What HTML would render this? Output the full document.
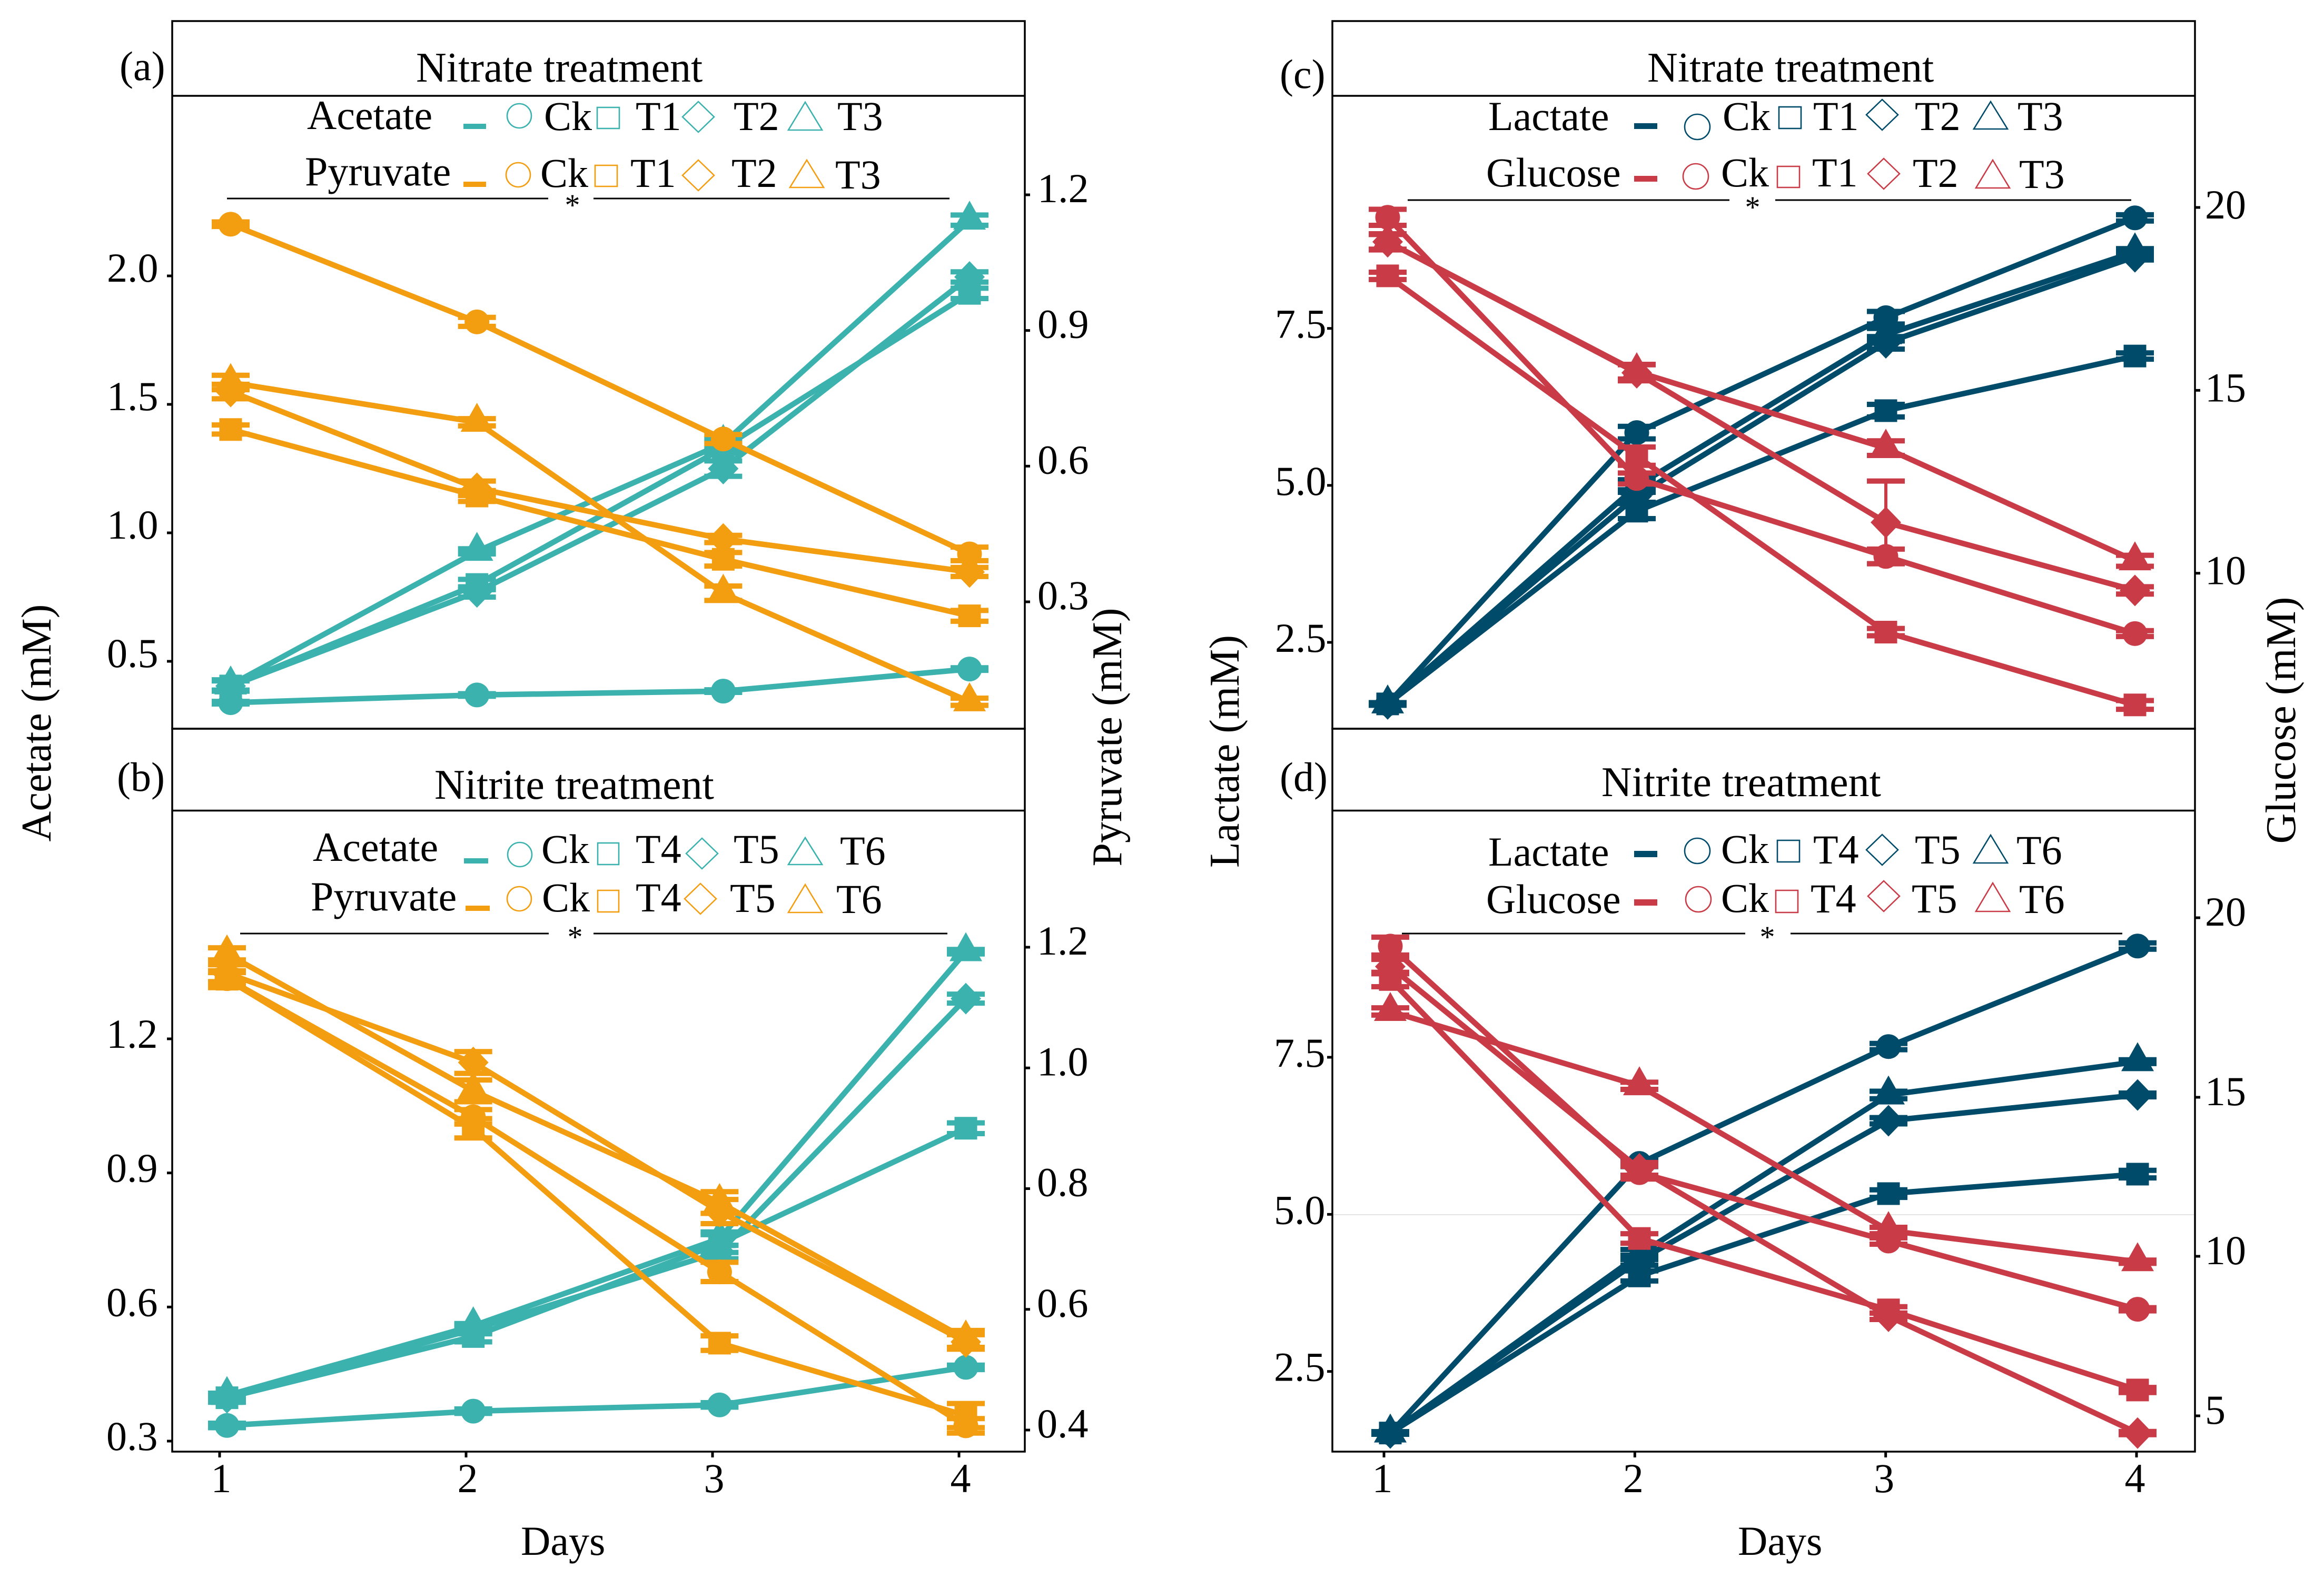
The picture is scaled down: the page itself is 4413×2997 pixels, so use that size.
<!DOCTYPE html>
<html lang="en">
<head>
<meta charset="utf-8">
<title>Metabolite time courses under nitrate and nitrite treatment</title>
<style>
html,body{margin:0;padding:0;background:#fff;}
svg{display:block;}
text{font-family:"Liberation Serif",serif;font-size:78px;fill:#000;}
.title{font-size:80px;}
.axt{font-size:80px;}
.star{font-size:58px;text-anchor:middle;}
.frame{fill:none;stroke:#000;stroke-width:3.5;}
.sig{stroke:#000;stroke-width:3;}
.o{fill:none;stroke-width:2.6;}
.teal{stroke:#3CB2AE;} .orange{stroke:#F39D10;} .navy{stroke:#014B6A;} .red{stroke:#C83B47;}
.ft{fill:#3CB2AE;} .fo{fill:#F39D10;} .fn{fill:#014B6A;} .fr{fill:#C83B47;}
</style>
</head>
<body>
<svg id="chart" xmlns="http://www.w3.org/2000/svg" width="4413" height="2997" viewBox="0 0 4413 2997">
<rect x="0" y="0" width="4413" height="2997" fill="#fff"/>

<!-- frames -->
<g><rect class="frame" x="327" y="40" width="1619" height="1344"/><line class="frame" x1="327" x2="1946" y1="182" y2="182"/></g>
<g><rect class="frame" x="327" y="1384" width="1619" height="1373"/><line class="frame" x1="327" x2="1946" y1="1539.5" y2="1539.5"/></g>
<g><rect class="frame" x="2530" y="40" width="1638" height="1344"/><line class="frame" x1="2530" x2="4168" y1="182" y2="182"/></g>
<g><rect class="frame" x="2530" y="1384" width="1638" height="1373"/><line class="frame" x1="2530" x2="4168" y1="1539.5" y2="1539.5"/></g>
<line x1="2532" x2="4166" y1="2307" y2="2307" stroke="#e4e4e4" stroke-width="2"/>

<!-- panel labels and titles -->
<text x="227" y="152">(a)</text>
<text x="222" y="1502">(b)</text>
<text x="2430" y="167">(c)</text>
<text x="2430" y="1502">(d)</text>
<text class="title" x="790" y="155">Nitrate treatment</text>
<text class="title" x="825" y="1517">Nitrite treatment</text>
<text class="title" x="3128" y="155">Nitrate treatment</text>
<text class="title" x="3041" y="1512">Nitrite treatment</text>

<!-- axis titles -->
<text class="axt" text-anchor="middle" transform="translate(96,1373) rotate(-90)">Acetate (mM)</text>
<text class="axt" text-anchor="middle" transform="translate(2129,1400) rotate(-90)">Pyruvate (mM)</text>
<text class="axt" text-anchor="middle" transform="translate(2352,1427) rotate(-90)">Lactate (mM)</text>
<text class="axt" text-anchor="middle" transform="translate(4358,1368) rotate(-90)">Glucose (mM)</text>
<text x="989" y="2953">Days</text>
<text x="3300" y="2953">Days</text>

<!-- significance lines -->
<g><line class="sig" x1="431" x2="1041" y1="377" y2="377"/><line class="sig" x1="1127" x2="1803" y1="377" y2="377"/><text class="star" x="1087" y="409">*</text></g>
<g><line class="sig" x1="456" x2="1042" y1="1773" y2="1773"/><line class="sig" x1="1127" x2="1799" y1="1773" y2="1773"/><text class="star" x="1092" y="1799">*</text></g>
<g><line class="sig" x1="2673" x2="3284" y1="380" y2="380"/><line class="sig" x1="3371" x2="4047" y1="380" y2="380"/><text class="star" x="3328" y="413">*</text></g>
<g><line class="sig" x1="2662" x2="3314" y1="1773" y2="1773"/><line class="sig" x1="3400" x2="4030" y1="1773" y2="1773"/><text class="star" x="3356" y="1799">*</text></g>

<g id="marks"></g>

<!-- legends -->
<g>
<text x="583" y="245">Acetate</text><rect class="ft" x="880" y="235" width="43" height="10"/>
<circle class="o teal" cx="986" cy="220" r="23"/><text x="1033" y="247">Ck</text>
<rect class="o teal" x="1134" y="204" width="42" height="40"/><text x="1207" y="247">T1</text>
<polygon class="o teal" points="1326,193 1356,222 1326,251 1296,222"/><text x="1393" y="247">T2</text>
<polygon class="o teal" points="1529,194 1561,247 1497,247"/><text x="1590" y="247">T3</text>
</g>
<g>
<text x="579" y="352">Pyruvate</text><rect class="fo" x="880" y="345" width="43" height="10"/>
<circle class="o orange" cx="984" cy="332" r="23"/><text x="1026" y="355">Ck</text>
<rect class="o orange" x="1130" y="314" width="42" height="40"/><text x="1197" y="355">T1</text>
<polygon class="o orange" points="1326,304 1356,333 1326,362 1296,333"/><text x="1389" y="355">T2</text>
<polygon class="o orange" points="1532,304 1564,356 1500,356"/><text x="1586" y="358">T3</text>
</g>
<g>
<text x="594" y="1635">Acetate</text><rect class="ft" x="881" y="1630" width="46" height="10"/>
<circle class="o teal" cx="987" cy="1623" r="23"/><text x="1028" y="1639">Ck</text>
<rect class="o teal" x="1135" y="1601" width="40" height="41"/><text x="1207" y="1639">T4</text>
<polygon class="o teal" points="1333,1592 1363,1621 1333,1650 1303,1621"/><text x="1393" y="1639">T5</text>
<polygon class="o teal" points="1529,1591 1561,1642 1497,1642"/><text x="1595" y="1642">T6</text>
</g>
<g>
<text x="590" y="1729">Pyruvate</text><rect class="fo" x="884" y="1720" width="46" height="10"/>
<circle class="o orange" cx="986" cy="1707" r="23"/><text x="1029" y="1731">Ck</text>
<rect class="o orange" x="1135" y="1691" width="40" height="41"/><text x="1207" y="1731">T4</text>
<polygon class="o orange" points="1330,1678 1360,1707 1330,1736 1300,1707"/><text x="1386" y="1732">T5</text>
<polygon class="o orange" points="1529,1680 1561,1733 1497,1733"/><text x="1588" y="1734">T6</text>
</g>
<g>
<text x="2826" y="247">Lactate</text><rect class="fn" x="3103" y="234" width="44" height="11"/>
<circle class="o navy" cx="3223" cy="241" r="24"/><text x="3271" y="247">Ck</text>
<rect class="o navy" x="3378" y="203" width="42" height="41"/><text x="3443" y="247">T1</text>
<polygon class="o navy" points="3574,189 3604,218 3574,247 3544,218"/><text x="3636" y="247">T2</text>
<polygon class="o navy" points="3780,193 3812,245 3748,245"/><text x="3831" y="247">T3</text>
</g>
<g>
<text x="2822" y="354">Glucose</text><rect class="fr" x="3103" y="334" width="44" height="11"/>
<circle class="o red" cx="3220" cy="335" r="24"/><text x="3268" y="354">Ck</text>
<rect class="o red" x="3375" y="316" width="42" height="40"/><text x="3441" y="354">T1</text>
<polygon class="o red" points="3577,301 3607,330 3577,359 3547,330"/><text x="3632" y="355">T2</text>
<polygon class="o red" points="3784,304 3816,357 3752,357"/><text x="3834" y="357">T3</text>
</g>
<g>
<text x="2826" y="1644">Lactate</text><rect class="fn" x="3103" y="1616" width="44" height="12"/>
<circle class="o navy" cx="3223" cy="1616" r="24"/><text x="3268" y="1639">Ck</text>
<rect class="o navy" x="3375" y="1596" width="42" height="41"/><text x="3443" y="1640">T4</text>
<polygon class="o navy" points="3574,1585 3604,1614 3574,1643 3544,1614"/><text x="3636" y="1640">T5</text>
<polygon class="o navy" points="3780,1586 3812,1639 3748,1639"/><text x="3829" y="1641">T6</text>
</g>
<g>
<text x="2822" y="1734">Glucose</text><rect class="fr" x="3103" y="1708" width="44" height="12"/>
<circle class="o red" cx="3225" cy="1708" r="24"/><text x="3268" y="1732">Ck</text>
<rect class="o red" x="3372" y="1691" width="42" height="42"/><text x="3438" y="1733">T4</text>
<polygon class="o red" points="3577,1673 3607,1702 3577,1731 3547,1702"/><text x="3630" y="1733">T5</text>
<polygon class="o red" points="3784,1677 3816,1731 3752,1731"/><text x="3834" y="1734">T6</text>
</g>
</svg>

<script>
const days = [1, 2, 3, 4];

// Tick labels
const aLeftTicks = [0.5, 1.0, 1.5, 2.0];
const aRightTicks = [0.3, 0.6, 0.9, 1.2];
const bLeftTicks = [0.3, 0.6, 0.9, 1.2];
const bRightTicks = [0.4, 0.6, 0.8, 1.0, 1.2];
const cLeftTicks = [2.5, 5.0, 7.5];
const cRightTicks = [10, 15, 20];
const dLeftTicks = [2.5, 5.0, 7.5];
const dRightTicks = [5, 10, 15, 20];

// Panel a: acetate
const aAcetateCk = [0.339, 0.369, 0.384, 0.470];
const aAcetateT1 = [0.404, 0.799, 1.330, 1.932];
const aAcetateT2 = [0.404, 0.770, 1.250, 1.996];
const aAcetateT3 = [0.408, 0.928, 1.348, 2.217];
const aAcetateCkErr = [0.005, 0.005, 0.005, 0.005];
const aAcetateT1Err = [0.02, 0.02, 0.02, 0.02];
const aAcetateT2Err = [0.02, 0.02, 0.03, 0.02];
const aAcetateT3Err = [0.02, 0.01, 0.02, 0.02];
// Panel a: pyruvate
const aPyruvateCk = [1.135, 0.919, 0.660, 0.406];
const aPyruvateT1 = [0.681, 0.534, 0.394, 0.269];
const aPyruvateT2 = [0.765, 0.551, 0.439, 0.366];
const aPyruvateT3 = [0.785, 0.697, 0.319, 0.079];
const aPyruvateCkErr = [0.005, 0.01, 0.01, 0.015];
const aPyruvateT1Err = [0.01, 0.012, 0.015, 0.012];
const aPyruvateT2Err = [0.016, 0.016, 0.008, 0.01];
const aPyruvateT3Err = [0.016, 0.008, 0.016, 0.008];

// Panel b: acetate
const bAcetateCk = [0.335, 0.367, 0.381, 0.465];
const bAcetateT4 = [0.397, 0.534, 0.742, 1.000];
const bAcetateT5 = [0.397, 0.550, 0.723, 1.290];
const bAcetateT6 = [0.402, 0.558, 0.753, 1.395];
const bAcetateCkErr = [0.005, 0.005, 0.005, 0.005];
const bAcetateT4Err = [0.01, 0.012, 0.02, 0.012];
const bAcetateT5Err = [0.01, 0.01, 0.015, 0.01];
const bAcetateT6Err = [0.005, 0.005, 0.015, 0.005];
// Panel b: pyruvate
const bPyruvateCk = [1.148, 0.919, 0.662, 0.407];
const bPyruvateT4 = [1.147, 0.900, 0.544, 0.424];
const bPyruvateT5 = [1.157, 1.009, 0.762, 0.546];
const bPyruvateT6 = [1.189, 0.962, 0.777, 0.551];
const bPyruvateCkErr = [0.01, 0.012, 0.016, 0.012];
const bPyruvateT4Err = [0.014, 0.016, 0.012, 0.02];
const bPyruvateT5Err = [0.014, 0.018, 0.02, 0.012];
const bPyruvateT6Err = [0.01, 0.018, 0.018, 0.014];

// Panel c: lactate
const cLactateCk = [1.52, 5.84, 7.67, 9.26];
const cLactateT1 = [1.52, 4.59, 6.19, 7.06];
const cLactateT2 = [1.52, 4.83, 7.27, 8.64];
const cLactateT3 = [1.52, 4.99, 7.40, 8.72];
const cLactateCkErr = [0.02, 0.1, 0.1, 0.05];
const cLactateT1Err = [0.02, 0.12, 0.1, 0.05];
const cLactateT2Err = [0.02, 0.1, 0.1, 0.05];
const cLactateT3Err = [0.02, 0.1, 0.1, 0.05];
// Panel c: glucose
const cGlucoseCk = [19.73, 12.59, 10.46, 8.35];
const cGlucoseT1 = [18.13, 13.20, 8.39, 6.40];
const cGlucoseT2 = [19.06, 15.48, 11.39, 9.53];
const cGlucoseT3 = [19.06, 15.51, 13.42, 10.34];
const cGlucoseCkErr = [0.22, 0.15, 0.2, 0.08];
const cGlucoseT1Err = [0.1, 0.25, 0.1, 0.12];
const cGlucoseT2Err = [0.2, 0.22, 1.13, 0.1];
const cGlucoseT3Err = [0.22, 0.2, 0.2, 0.15];

// Panel d: lactate
const dLactateCk = [1.52, 5.81, 7.67, 9.27];
const dLactateT4 = [1.52, 4.02, 5.33, 5.64];
const dLactateT5 = [1.52, 4.27, 6.49, 6.90];
const dLactateT6 = [1.52, 4.36, 6.90, 7.43];
const dLactateCkErr = [0.02, 0.05, 0.05, 0.05];
const dLactateT4Err = [0.02, 0.08, 0.06, 0.06];
const dLactateT5Err = [0.02, 0.08, 0.05, 0.03];
const dLactateT6Err = [0.02, 0.08, 0.06, 0.03];
// Panel d: glucose
const dGlucoseCk = [19.21, 12.63, 10.48, 8.34];
const dGlucoseT4 = [18.28, 10.56, 8.32, 5.81];
const dGlucoseT5 = [18.64, 12.75, 8.12, 4.46];
const dGlucoseT6 = [17.39, 15.32, 10.81, 9.83];
const dGlucoseCkErr = [0.25, 0.2, 0.1, 0.05];
const dGlucoseT4Err = [0.2, 0.15, 0.1, 0.08];
const dGlucoseT5Err = [0.2, 0.2, 0.1, 0.05];
const dGlucoseT6Err = [0.1, 0.1, 0.1, 0.05];

const NS = 'http://www.w3.org/2000/svg';
const root = document.getElementById('marks');

function make(tag, attrs, parent) {
  const e = document.createElementNS(NS, tag);
  for (const k in attrs) e.setAttribute(k, attrs[k]);
  parent.appendChild(e);
  return e;
}
function scale(domain, range) {
  return function (v) {
    let i = 0;
    while (i < domain.length - 2 && v > domain[i + 1]) i++;
    return range[i] + (v - domain[i]) * (range[i + 1] - range[i]) / (domain[i + 1] - domain[i]);
  };
}
function drawMarker(shape, cx, cy, color, parent) {
  let m;
  if (shape === 'circle') m = make('circle', {cx: cx, cy: cy, r: 23.5, fill: color}, parent);
  if (shape === 'square') m = make('rect', {x: cx - 21.5, y: cy - 21.5, width: 43, height: 43, fill: color}, parent);
  if (shape === 'diamond') m = make('polygon', {points: [cx, cy - 30, cx + 29, cy, cx, cy + 30, cx - 29, cy].join(' '), fill: color}, parent);
  if (shape === 'triangle') m = make('polygon', {points: [cx, cy - 37, cx + 31, cy + 18, cx - 31, cy + 18].join(' '), fill: color}, parent);
  
  
}
function drawSeries(key, values, errors, shape, color, xs, ys, parent) {
  const g = make('g', {}, parent);
  
  
  const line = make('polyline', {
    points: days.map((d, i) => xs(d) + ',' + ys(values[i])).join(' '),
    fill: 'none', stroke: color, 'stroke-width': 10.5, 'stroke-linejoin': 'round'
  }, g);
  
  
  days.forEach((d, i) => {
    const x = xs(d), hi = ys(values[i] + errors[i]), lo = ys(values[i] - errors[i]);
    const stem = make('line', {x1: x, x2: x, y1: hi, y2: lo, stroke: color, 'stroke-width': 6}, g);
    
    
    const caps = make('path', {
      d: 'M' + (x - 36) + ' ' + hi + 'H' + (x + 36) + 'M' + (x - 36) + ' ' + lo + 'H' + (x + 36),
      fill: 'none', stroke: color, 'stroke-width': 10
    }, g);
    
    
  });
  days.forEach((d, i) => drawMarker(shape, xs(d), ys(values[i]), color, g));
}
function drawYAxis(name, ticks, ys, tickFrom, tickTo, labelX, labelDy, digits) {
  const g = make('g', {}, root);
  
  
  ticks.forEach(v => {
    const t = make('line', {x1: tickFrom, x2: tickTo, y1: ys(v), y2: ys(v), stroke: '#000', 'stroke-width': 5}, g);
    
    
    const l = make('text', {x: labelX, y: ys(v) + labelDy}, g);
    
    
    l.textContent = v.toFixed(digits);
  });
}
function drawXAxis(name, xs, y, labelOffset) {
  const g = make('g', {}, root);
  
  
  days.forEach(d => {
    const t = make('line', {x1: xs(d), x2: xs(d), y1: y, y2: y + 11, stroke: '#000', 'stroke-width': 5}, g);
    
    
    const l = make('text', {x: xs(d) + labelOffset, y: y + 77, 'text-anchor': 'middle'}, g);
    
    
    l.textContent = d;
  });
}
const shapes = ['circle', 'square', 'diamond', 'triangle'];
function drawPanel(name, xs, ysA, ysB, colA, colB, groupA, groupB) {
  const g = make('g', {}, root);
  
  
  groupA.forEach((s, i) => drawSeries(s[0], s[1], s[2], shapes[i], colA, xs, ysA, g));
  groupB.forEach((s, i) => drawSeries(s[0], s[1], s[2], shapes[i], colB, xs, ysB, g));
}

const TEAL = '#3CB2AE', ORANGE = '#F39D10', NAVY = '#014B6A', RED = '#C83B47';

// Axis functions
const xA = scale([1, 4], [438, 1841]);
const xB = scale([1, 4], [431, 1834]);
const xBTicks = scale([1, 4], [417, 1821]);
const xC = scale([1, 4], [2635, 4054]);
const xD = scale([1, 4], [2640, 4059]);
const xDTicks = scale([1, 4], [2628, 4057]);
const yAL = scale([0.5, 2], [1256, 524]);
const yAR = scale([0.3, 1.2], [1143, 370]);
const yBL = scale([0.3, 1.2], [2737, 1973]);
const yBR = scale([0.4, 1.2], [2716, 1799]);
const yCL = scale([2.5, 7.5], [1220, 623.7]);
const yCR = scale([10, 20], [1088.7, 394]);
const yDL = scale([2.5, 7.5], [2604.7, 2008]);
const yDR = scale([5, 10, 15, 20], [2689, 2386, 2084, 1743]);

drawYAxis('panel-a-left-axis', aLeftTicks, yAL, 317, 327, 203, 11, 1);
drawYAxis('panel-a-right-axis', aRightTicks, yAR, 1946, 1956, 1970, 14, 1);
drawYAxis('panel-b-left-axis', bLeftTicks, yBL, 317, 327, 202, 17, 1);
drawYAxis('panel-b-right-axis', bRightTicks, yBR, 1946, 1956, 1969, 14, 1);
drawYAxis('panel-c-left-axis', cLeftTicks, yCL, 2520, 2530, 2421, 18, 1);
drawYAxis('panel-c-right-axis', cRightTicks, yCR, 4168, 4178, 4187, 21, 0);
drawYAxis('panel-d-left-axis', dLeftTicks, yDL, 2520, 2530, 2419, 18, 1);
drawYAxis('panel-d-right-axis', dRightTicks, yDR, 4168, 4178, 4187, 15, 0);
drawXAxis('panel-b-x-axis', xBTicks, 2757, 3);
drawXAxis('panel-d-x-axis', xDTicks, 2757, -3);

drawPanel('panel-a', xA, yAL, yAR, TEAL, ORANGE,
  [['acetate-ck', aAcetateCk, aAcetateCkErr], ['acetate-t1', aAcetateT1, aAcetateT1Err], ['acetate-t2', aAcetateT2, aAcetateT2Err], ['acetate-t3', aAcetateT3, aAcetateT3Err]],
  [['pyruvate-ck', aPyruvateCk, aPyruvateCkErr], ['pyruvate-t1', aPyruvateT1, aPyruvateT1Err], ['pyruvate-t2', aPyruvateT2, aPyruvateT2Err], ['pyruvate-t3', aPyruvateT3, aPyruvateT3Err]]);
drawPanel('panel-b', xB, yBL, yBR, TEAL, ORANGE,
  [['acetate-ck', bAcetateCk, bAcetateCkErr], ['acetate-t4', bAcetateT4, bAcetateT4Err], ['acetate-t5', bAcetateT5, bAcetateT5Err], ['acetate-t6', bAcetateT6, bAcetateT6Err]],
  [['pyruvate-ck', bPyruvateCk, bPyruvateCkErr], ['pyruvate-t4', bPyruvateT4, bPyruvateT4Err], ['pyruvate-t5', bPyruvateT5, bPyruvateT5Err], ['pyruvate-t6', bPyruvateT6, bPyruvateT6Err]]);
drawPanel('panel-c', xC, yCL, yCR, NAVY, RED,
  [['lactate-ck', cLactateCk, cLactateCkErr], ['lactate-t1', cLactateT1, cLactateT1Err], ['lactate-t2', cLactateT2, cLactateT2Err], ['lactate-t3', cLactateT3, cLactateT3Err]],
  [['glucose-ck', cGlucoseCk, cGlucoseCkErr], ['glucose-t1', cGlucoseT1, cGlucoseT1Err], ['glucose-t2', cGlucoseT2, cGlucoseT2Err], ['glucose-t3', cGlucoseT3, cGlucoseT3Err]]);
drawPanel('panel-d', xD, yDL, yDR, NAVY, RED,
  [['lactate-ck', dLactateCk, dLactateCkErr], ['lactate-t4', dLactateT4, dLactateT4Err], ['lactate-t5', dLactateT5, dLactateT5Err], ['lactate-t6', dLactateT6, dLactateT6Err]],
  [['glucose-ck', dGlucoseCk, dGlucoseCkErr], ['glucose-t4', dGlucoseT4, dGlucoseT4Err], ['glucose-t5', dGlucoseT5, dGlucoseT5Err], ['glucose-t6', dGlucoseT6, dGlucoseT6Err]]);
</script>
</body>
</html>
